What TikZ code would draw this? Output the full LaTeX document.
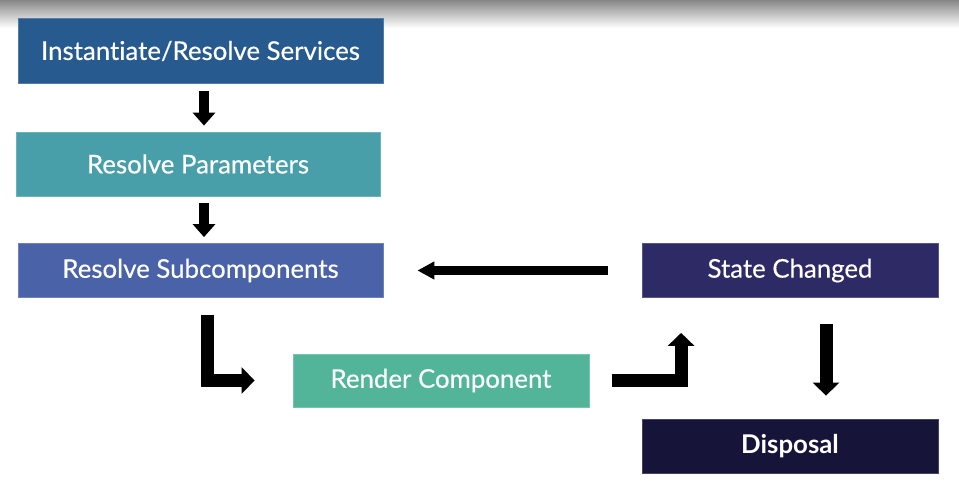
\documentclass[tikz,border=0pt]{standalone}
\usepackage{fontspec}
\setmainfont{Lato}[Ligatures=NoCommon]
\newfontfamily\medfont{Lato}[Ligatures=NoCommon, FakeBold=0.35]
\usetikzlibrary{arrows.meta}

\definecolor{srvblue}{RGB}{39,90,142}
\definecolor{parteal}{RGB}{72,159,170}
\definecolor{subblue}{RGB}{74,98,167}
\definecolor{stanavy}{RGB}{45,42,102}
\definecolor{rengreen}{RGB}{82,181,154}
\definecolor{disnavy}{RGB}{23,20,58}
\definecolor{topgray}{RGB}{135,135,135}

\tikzset{
  stage/.style={draw=#1!80!white, line width=0.8pt, fill=#1, text=white,
    minimum height=54pt, inner sep=0pt, font=\medfont\fontsize{25.8}{30}\selectfont},
  flow/.style={line width=13pt, line join=miter, -{Triangle[width=26pt,length=13pt]}},
  smallflow/.style={line width=10pt, -{Triangle[width=22pt,length=13pt]}},
}

\begin{document}
\begin{tikzpicture}[x=1pt,y=-1pt]
\useasboundingbox (0,0) rectangle (959,483);
\shade[top color=topgray, bottom color=white] (0,0) rectangle (959,28); % shadow on top

\node[stage=srvblue, minimum width=365pt, minimum height=65pt] (srv) at (200.5,51) {Instantiate/Resolve Services};
\node[stage=parteal, minimum width=364pt, minimum height=64pt] (par) at (198,164) {Resolve Parameters};
\node[stage=subblue, minimum width=365pt] (sub) at (200.5,270.5) {Resolve Subcomponents};
\node[stage=stanavy, minimum width=296pt] (sta) at (790,270.5) {State Changed};
\node[stage=rengreen, minimum width=296pt, minimum height=53pt] (ren) at (441,380.5) {Render Component};
\node[stage=disnavy, minimum width=296pt, font=\rmfamily\fontsize{25.8}{30}\selectfont\bfseries] (dis) at (790,446) {Disposal};

\draw[flow, smallflow, shorten <=7pt, shorten >=6pt] ([xshift=3.5pt]srv.south) -- ([xshift=3.5pt]srv.south |- par.north);
\draw[flow, smallflow, shorten <=7pt, shorten >=6pt] ([xshift=6pt]par.south) -- ([xshift=6pt]par.south |- sub.north);
\draw[flow, line width=9pt, -{Triangle[width=17pt,length=17pt]}, shorten <=34pt, shorten >=34pt] (sta.west) -- (sub.east);
\draw[flow, shorten <=17pt, shorten >=38pt] ([xshift=6.5pt]sub.south) |- (ren.west);
\draw[flow, shorten <=23pt, shorten >=35pt] (ren.east) -| ([xshift=39.5pt]sta.south west);
\draw[flow, shorten <=26pt, shorten >=23pt] ([xshift=36pt]sta.south) -- ([xshift=36pt]dis.north);
\end{tikzpicture}
\end{document}
